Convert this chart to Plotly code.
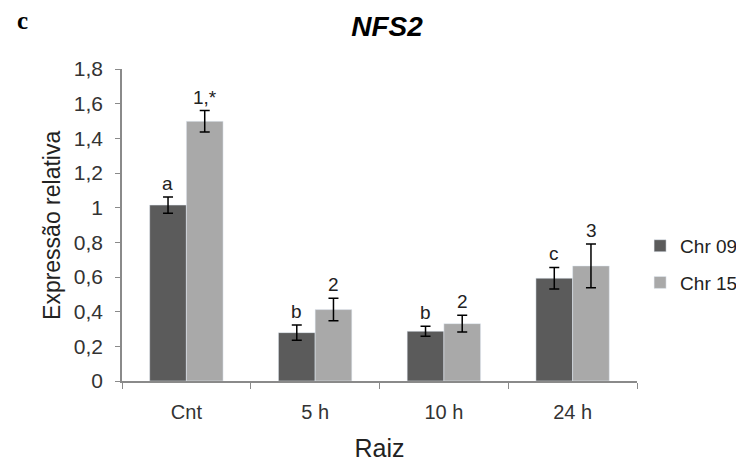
import plotly.graph_objects as go

categories = ["Cnt", "5 h", "10 h", "24 h"]
chr09 = [1.015, 0.279, 0.287, 0.593]
chr09_err = [0.047, 0.044, 0.029, 0.062]
chr15 = [1.498, 0.412, 0.331, 0.664]
chr15_err = [0.062, 0.065, 0.048, 0.126]
chr09_labels = ["a", "b", "b", "c"]
chr15_labels = ["1,*", "2", "2", "3"]
yticks = [0, 0.2, 0.4, 0.6, 0.8, 1.0, 1.2, 1.4, 1.6, 1.8]
ytick_text = ["0", "0,2", "0,4", "0,6", "0,8", "1", "1,2", "1,4", "1,6", "1,8"]

FONT = "Liberation Sans, Arial, sans-serif"
DARK = "#5b5b5b"
LIGHT = "#a9a9a9"

fig = go.Figure()
fig.add_trace(go.Bar(
    x=categories, y=chr09, name="Chr 09", marker_color=DARK, legendgroup="g1",
    error_y=dict(type="data", array=chr09_err, color="black", thickness=1.5, width=5),
))
fig.add_trace(go.Bar(
    x=categories, y=chr15, name="Chr 15", marker_color=LIGHT, legendgroup="g2",
    error_y=dict(type="data", array=chr15_err, color="black", thickness=1.5, width=5),
))

for cat, v, e, t in zip(categories, chr09, chr09_err, chr09_labels):
    fig.add_annotation(x=cat, y=v + e, text=t, showarrow=False, xshift=-18.5,
                       yanchor="bottom", yshift=1, font=dict(family=FONT, size=19, color="#222"))
for cat, v, e, t in zip(categories, chr15, chr15_err, chr15_labels):
    fig.add_annotation(x=cat, y=v + e, text=t, showarrow=False, xshift=18.5,
                       yanchor="bottom", yshift=1, font=dict(family=FONT, size=19, color="#222"))

# panel letter
fig.add_annotation(xref="paper", yref="paper", x=-0.208, y=1.155, text="<b>c</b>", showarrow=False,
                   xanchor="left", yanchor="middle",
                   font=dict(family="Liberation Serif, Times New Roman, serif", size=25, color="black"))
# y-axis title
fig.add_annotation(xref="paper", yref="paper", x=-0.136, y=0.5, text="Expressão relativa",
                   textangle=-90, showarrow=False, xanchor="center", yanchor="middle",
                   font=dict(family=FONT, size=23, color="#222"))

fig.update_layout(
    width=736, height=460,
    margin=dict(l=114, r=107, t=61, b=87, autoexpand=False),
    paper_bgcolor="white", plot_bgcolor="white",
    barmode="group", bargap=0.43, bargroupgap=0,
    title=dict(text="<b><i>NFS2</i></b>", x=0.515, xanchor="center", y=0.961, yanchor="middle",
               font=dict(family=FONT, size=28, color="black")),
    font=dict(family=FONT, color="#333"),
    showlegend=True,
    legend=dict(x=1.006, y=0.494, xanchor="left", yanchor="top",
                font=dict(family=FONT, size=19, color="#222"),
                itemwidth=30, tracegroupgap=9),
    xaxis=dict(
        automargin=False,
        showline=True, linecolor="#8a8a8a", linewidth=1.5,
        ticks="outside", tickson="boundaries", ticklen=6, tickcolor="#8a8a8a",
        ticklabelstandoff=12,
        tickfont=dict(family=FONT, size=20, color="#333"),
        title=dict(text="Raiz", font=dict(family=FONT, size=25, color="#222"), standoff=18),
    ),
    yaxis=dict(
        automargin=False,
        range=[0, 1.8], tickvals=yticks, ticktext=ytick_text,
        showline=True, linecolor="#8a8a8a", linewidth=1.5,
        ticks="outside", ticklen=5, tickcolor="#8a8a8a",
        ticklabelstandoff=8,
        showgrid=False, zeroline=False,
        tickfont=dict(family=FONT, size=21, color="#333"),
    ),
)

fig.write_html("out.html")
